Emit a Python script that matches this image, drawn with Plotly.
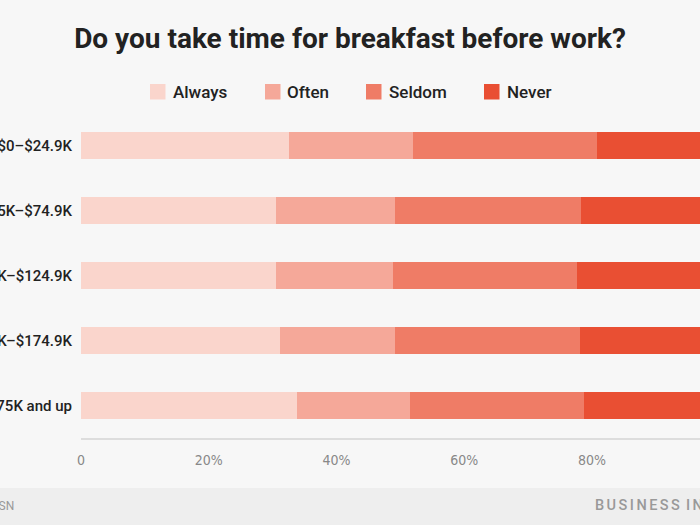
import plotly.graph_objects as go

categories = ["$0–$24.9K", "$25K–$74.9K", "$75K–$124.9K", "$125K–$174.9K", "$175K and up"]
series_names = ["Always", "Often", "Seldom", "Never"]
always = [32.5, 30.5, 30.6, 31.1, 33.8]
often = [19.4, 18.6, 18.2, 18.0, 17.7]
seldom = [28.9, 29.1, 28.9, 29.0, 27.2]
never = [19.2, 21.8, 22.3, 21.9, 21.3]
values = [always, often, seldom, never]
colors = ["#fad5cc", "#f5a899", "#ef7c66", "#e94f33"]
tick_vals = [0, 20, 40, 60, 80, 100]
tick_text = ["0", "20%", "40%", "60%", "80%", "100%"]

W, H = 700, 525
L, R, T, B = 81, 0, 113, 87
plot_w = W - L - R
plot_h = H - T - B


def px_x(px):
    return (px - L) / plot_w


def px_y(py):
    return (T + plot_h - py) / plot_h


fig = go.Figure()
for name, vals, col in zip(series_names, values, colors):
    fig.add_trace(go.Bar(
        y=categories, x=vals, name=name, orientation="h",
        marker=dict(color=col, line=dict(width=0)),
        hoverinfo="x+y+name", showlegend=False,
    ))

fig.update_layout(
    width=W, height=H,
    barmode="stack",
    bargap=0.585,
    paper_bgcolor="#f7f7f7",
    plot_bgcolor="#f7f7f7",
    margin=dict(l=L, r=R, t=T, b=B, autoexpand=False),
    font=dict(family="Roboto, sans-serif", color="#222222"),
    title=dict(
        text="<b>Do you take time for breakfast before work?</b>",
        x=0.5, xref="container", xanchor="center",
        y=1 - 38 / H, yref="container", yanchor="middle",
        font=dict(size=28, color="#222222", family="Roboto, sans-serif"),
    ),
    xaxis=dict(
        range=[0, (W - L) / 6.3875], fixedrange=True,
        tickvals=tick_vals, ticktext=tick_text,
        showgrid=False, zeroline=False,
        showline=True, linecolor="#dddddd", linewidth=2,
        ticks="", ticklabelstandoff=8,
        tickfont=dict(size=14, color="#888888",
                      family="Liberation Sans Narrow, DejaVu Sans Condensed, Roboto, sans-serif"),
    ),
    yaxis=dict(
        autorange="reversed", automargin=False, fixedrange=True,
        showgrid=False, zeroline=False, showline=False, ticks="",
        ticklabelstandoff=8,
        tickfont=dict(size=15, color="#222222", family="Roboto, sans-serif", weight=500),
    ),
    showlegend=False,
)

# custom legend (swatch left edge px, text left edge px)
legend_swatch_x = [150, 265, 366, 484]
legend_text_x = [171, 285, 387, 505]
for name, col, sx, tx in zip(series_names, colors, legend_swatch_x, legend_text_x):
    fig.add_shape(type="rect", xref="paper", yref="paper",
                  x0=px_x(sx), x1=px_x(sx + 15.5), y0=px_y(99.5), y1=px_y(84),
                  fillcolor=col, line=dict(width=0))
    fig.add_annotation(xref="paper", yref="paper", x=px_x(tx), y=px_y(92),
                       xanchor="left", yanchor="middle", showarrow=False,
                       text=name, font=dict(size=17, color="#222222", weight=500))

# footer band
fig.add_shape(type="rect", xref="paper", yref="paper",
              x0=px_x(-5), x1=px_x(705), y0=px_y(530), y1=px_y(488),
              fillcolor="#eeeeee", line=dict(width=0), layer="below")
fig.add_annotation(xref="paper", yref="paper",
                   x=px_x(16), y=px_y(506),
                   xanchor="right", yanchor="middle", showarrow=False,
                   text="Source: BSN", font=dict(size=12, color="#999999"))
fig.add_annotation(xref="paper", yref="paper",
                   x=px_x(593), y=px_y(506),
                   xanchor="left", yanchor="middle", showarrow=False,
                   text="B\u2006U\u2006S\u2006I\u2006N\u2006E\u2006S\u2006S\u2006 I\u2006N\u2006S\u2006I\u2006D\u2006E\u2006R",
                   font=dict(size=14.5, color="#999999", family="Roboto, sans-serif", weight=500))

fig.write_html("out.html",
               config={"displayModeBar": False},
               post_script="document.body.style.margin='0';document.body.style.overflow='hidden';")
